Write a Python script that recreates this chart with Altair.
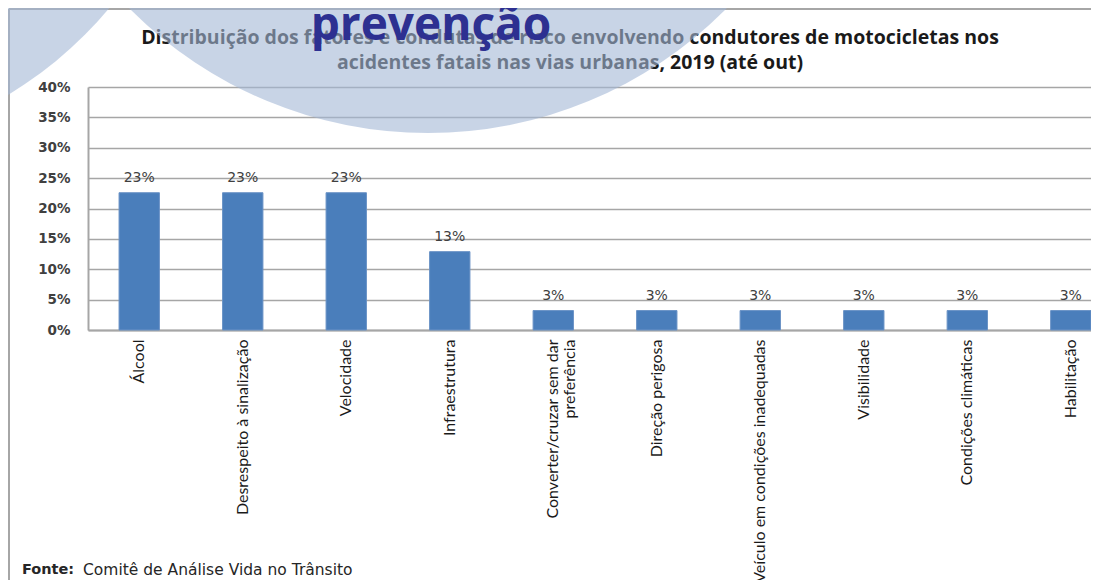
import altair as alt
import pandas as pd

categories = [
    "Álcool",
    "Desrespeito à sinalização",
    "Velocidade",
    "Infraestrutura",
    "Converter/cruzar sem dar preferência",
    "Direção perigosa",
    "Veículo em condições inadequadas",
    "Visibilidade",
    "Condições climáticas",
    "Habilitação",
]
shares = [0.226, 0.226, 0.226, 0.129, 0.032, 0.032, 0.032, 0.032, 0.032, 0.032]
y_ticks = [0.0, 0.05, 0.10, 0.15, 0.20, 0.25, 0.30, 0.35, 0.40]
title_line1 = "Distribuição dos fatores e condutas de risco envolvendo condutores de motocicletas nos"
title_line2 = "acidentes fatais nas vias urbanas, 2019 (até out)"
source_label = "Fonte:"
source_text = "Comitê de Análise Vida no Trânsito"
banner_word = "prevenção"

df = pd.DataFrame({"fator": categories, "pct": shares})
one = pd.DataFrame({"k": [0]})

GRID = "#a6a6a6"

x_enc = alt.X(
    "fator:N",
    sort=categories,
    scale=alt.Scale(paddingInner=0.61, paddingOuter=0.15, align=1),
    axis=alt.Axis(
        title=None,
        labelAngle=270,
        labelFont="Lato",
        labelFontSize=16,
        labelColor="#1a1a1a",
        labelPadding=9,
        labelLimit=400,
        labelLineHeight=17,
        ticks=False,
        domainColor=GRID,
        domainWidth=2,
        labelExpr="datum.label == 'Converter/cruzar sem dar preferência' ? ['Converter/cruzar sem dar', 'preferência'] : datum.label",
    ),
)
y_enc = alt.Y(
    "pct:Q",
    scale=alt.Scale(domain=[0, 0.4]),
    axis=alt.Axis(
        title=None,
        values=y_ticks,
        format=".0%",
        grid=True,
        gridColor=GRID,
        gridWidth=1.6,
        domainColor=GRID,
        domainWidth=2,
        ticks=False,
        labelPadding=18,
        labelFont="DejaVu Sans",
        labelFontSize=13.5,
        labelFontWeight="bold",
        labelColor="#404040",
    ),
)

frame_top = alt.Chart(one).mark_rule(color=GRID, strokeWidth=2).encode(
    x=alt.value(-79), x2=alt.value(1003), y=alt.value(-78)
)
frame_left = alt.Chart(one).mark_rule(color=GRID, strokeWidth=2).encode(
    x=alt.value(-79), y=alt.value(-78), y2=alt.value(500)
)

bars = alt.Chart(df).mark_bar(color="#4a7ebb", stroke="#6b93c6", strokeWidth=1).encode(x=x_enc, y=y_enc)
labels = alt.Chart(df).mark_text(
    dy=-15, font="DejaVu Sans", fontSize=14, color="#404040", baseline="middle"
).encode(x=x_enc, y=y_enc, text=alt.Text("pct:Q", format=".0%"))

t1 = alt.Chart(one).mark_text(
    font="Open Sans", fontSize=19.5, fontWeight="bold", color="#1a1a1a", align="center", baseline="middle"
).encode(x=alt.value(482), y=alt.value(-49), text=alt.value(title_line1))
t2 = alt.Chart(one).mark_text(
    font="Open Sans", fontSize=19.5, fontWeight="bold", color="#1a1a1a", align="center", baseline="middle"
).encode(x=alt.value(482), y=alt.value(-24), text=alt.value(title_line2))

circle_big = alt.Chart(one).mark_circle(color="#a3b7d5", opacity=0.6).encode(
    x=alt.value(340), y=alt.value(-374), size=alt.value(705600)
)
circle_left = alt.Chart(one).mark_circle(color="#a3b7d5", opacity=0.6).encode(
    x=alt.value(-286), y=alt.value(-335), size=alt.value(640000)
)

banner = alt.Chart(one).mark_text(
    font="Open Sans", fontSize=46, fontWeight="bold", color="#2d3091", align="center", baseline="alphabetic"
).encode(x=alt.value(343), y=alt.value(-47), text=alt.value(banner_word))

src1 = alt.Chart(one).mark_text(
    font="DejaVu Sans", fontSize=14.5, fontWeight="bold", color="#262626", align="left", baseline="middle"
).encode(x=alt.value(-66), y=alt.value(483), text=alt.value(source_label))
src2 = alt.Chart(one).mark_text(
    font="DejaVu Sans", fontSize=15.5, color="#262626", align="left", baseline="middle"
).encode(x=alt.value(-5), y=alt.value(483), text=alt.value(source_text))

chart = (
    alt.layer(frame_top, frame_left, bars, labels, t1, t2, circle_big, circle_left, banner, src1, src2)
    .properties(
        width=1003,
        height=243,
        autosize=alt.AutoSizeParams(type="none"),
        padding={"left": 80, "top": 79, "right": 0, "bottom": 250},
        background="white",
    )
    .configure_view(strokeWidth=0)
)

chart.save("out.html", embed_options={"renderer": "svg", "actions": False})
